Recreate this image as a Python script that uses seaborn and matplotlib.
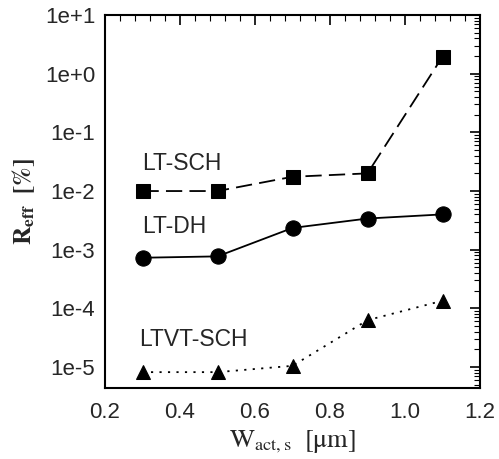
import pandas as pd
import seaborn as sns
import matplotlib.pyplot as plt
from matplotlib.ticker import AutoMinorLocator, LogLocator, FixedLocator, NullFormatter

# Dados
w_act = [0.3, 0.5, 0.7, 0.9, 1.1]
r_lt_sch = [1.0e-2, 1.0e-2, 1.75e-2, 2.0e-2, 1.95]
r_lt_dh = [7.3e-4, 7.7e-4, 2.35e-3, 3.4e-3, 4.0e-3]
r_ltvt_sch = [8.2e-6, 8.2e-6, 1.05e-5, 6.3e-5, 1.35e-4]

df = pd.DataFrame({
    'w': w_act * 3,
    'r': r_lt_sch + r_lt_dh + r_ltvt_sch,
    'serie': ['LT-SCH'] * 5 + ['LT-DH'] * 5 + ['LTVT-SCH'] * 5,
})

sns.set_theme(style='white')
plt.rcParams['font.family'] = ['Liberation Sans', 'DejaVu Sans']
plt.rcParams['mathtext.fontset'] = 'stix'

fig = plt.figure(figsize=(4.99, 4.59), dpi=100)
ax = fig.add_axes([105 / 499, 1 - 388 / 459, 375 / 499, 373 / 459])

estilos = {
    'LT-SCH': dict(marker='s', ms=10, dashes=(9, 4)),
    'LT-DH': dict(marker='o', ms=11, dashes=()),
    'LTVT-SCH': dict(marker='^', ms=10.5, dashes=(1.2, 3.5)),
}

for serie, kw in estilos.items():
    sns.lineplot(
        data=df[df['serie'] == serie], x='w', y='r', ax=ax,
        color='black', lw=1.3, marker=kw['marker'], markersize=kw['ms'],
        markeredgecolor='black', dashes=kw['dashes'] if kw['dashes'] else '',
        legend=False
    )
    if not kw['dashes']:
        ax.lines[-1].set_linestyle('-')

ax.set_yscale('log')
ax.set_xlim(0.2, 1.2)
ax.set_ylim(4.4e-6, 10)

ax.xaxis.set_major_locator(FixedLocator([0.2, 0.4, 0.6, 0.8, 1.0, 1.2]))
ax.set_xticklabels(['0.2', '0.4', '0.6', '0.8', '1.0', '1.2'])
ax.xaxis.set_minor_locator(AutoMinorLocator(5))
ax.yaxis.set_minor_locator(LogLocator(base=10, subs=range(2, 10), numticks=20))
ax.yaxis.set_minor_formatter(NullFormatter())
ax.set_yticks([1e-5, 1e-4, 1e-3, 1e-2, 1e-1, 1, 10])
ax.set_yticklabels(['1e-5', '1e-4', '1e-3', '1e-2', '1e-1', '1e+0', '1e+1'])

ax.tick_params(which='both', direction='in', top=True, right=True, labelsize=16, color='black')
ax.tick_params(which='major', length=7, width=1.2)
ax.tick_params(axis='y', which='major', pad=7)
ax.tick_params(axis='x', which='major', pad=10)
ax.tick_params(which='minor', length=4, width=0.8)
for s in ax.spines.values():
    s.set_color('black')
    s.set_linewidth(1.5)

ax.text(0.3, 3.0e-2, 'LT-SCH', fontsize=16.5, ha='left', va='center')
ax.text(0.3, 2.5e-3, 'LT-DH', fontsize=16.5, ha='left', va='center')
ax.text(0.29, 3.0e-5, 'LTVT-SCH', fontsize=16.5, ha='left', va='center')

ax.set_xlabel(r'$\mathrm{W_{act,s}}\ \ \mathrm{[\mu m]}$', fontsize=19, labelpad=4)
ax.set_ylabel(r'$\mathbf{R_{eff}}\ \ \mathbf{[\%]}$', fontsize=18, labelpad=6)

fig.savefig('out.png', dpi=100)
